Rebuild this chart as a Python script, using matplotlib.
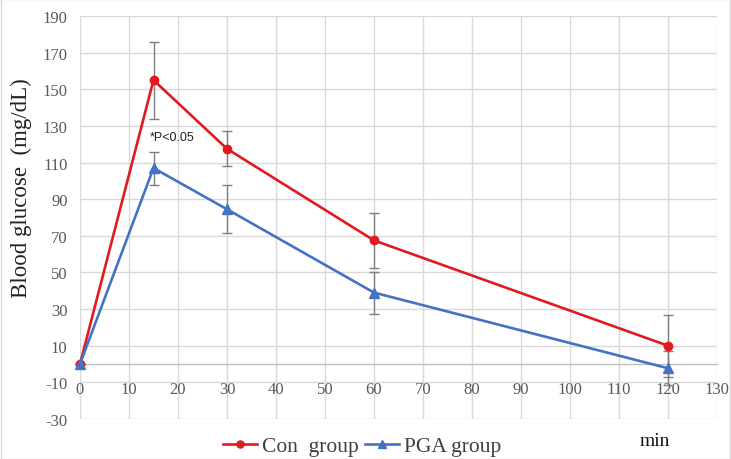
import matplotlib.pyplot as plt
import numpy as np

plt.rcParams['font.family'] = ['Liberation Serif', 'DejaVu Serif']
plt.rcParams['axes.unicode_minus'] = False

time_min = [0, 15, 30, 60, 120]
con_mean = [0, 155, 117.5, 67.5, 10]
con_err = [0, 21, 9.5, 15, 17]
pga_mean = [0, 107, 84.5, 39, -2.3]
pga_err = [0, 9, 13, 11.5, 9.4]

x_ticks = np.arange(0, 131, 10)
y_ticks = np.arange(-30, 191, 20)

red = "#E2191E"
blue = "#4472C4"
grid_c = "#D9D9D9"
err_c = "#7F7F7F"

fig = plt.figure(figsize=(7.31, 4.6), dpi=100)
ax = fig.add_axes([80 / 731, 1 - 420 / 460, 637 / 731, 403 / 460])

ax.errorbar(time_min, con_mean, yerr=con_err, fmt="none", ecolor=err_c,
            elinewidth=1, capsize=3.5, capthick=1, zorder=3, clip_on=False)
ax.errorbar(time_min, pga_mean, yerr=pga_err, fmt="none", ecolor=err_c,
            elinewidth=1, capsize=3.5, capthick=1, zorder=3, clip_on=False)
ax.plot(time_min, con_mean, color=red, lw=1.9, marker="o", ms=6,
        label="Con  group", zorder=4, clip_on=False)
ax.plot(time_min, pga_mean, color=blue, lw=1.9, marker="^", ms=6.5,
        label="PGA group", zorder=5, clip_on=False)

ax.set_xlim(0, 130)
ax.set_ylim(-30, 190)
ax.set_xticks(x_ticks)
ax.set_yticks(y_ticks)
ax.grid(True, color=grid_c, lw=1)
ax.set_axisbelow(True)

for side in ["top", "right", "left"]:
    ax.spines[side].set_visible(False)
ax.spines["bottom"].set_position(("data", 0))
ax.spines["bottom"].set_color("#BFBFBF")
ax.spines["bottom"].set_linewidth(1)
ax.tick_params(axis="both", length=0, labelsize=12, labelcolor="#595959")
ax.tick_params(axis="x", pad=12)
ax.tick_params(axis="y", pad=9)

ax.text(14.2, 124, "*P<0.05", family="Liberation Sans", fontsize=9,
        color="#222222", va="center", ha="left")

ax.set_ylabel("Blood glucose  (mg/dL)", fontsize=16.5, color="#222222",
              va="center")
ax.yaxis.set_label_coords(-0.092, 0.575)

fig.legend(loc="center", bbox_to_anchor=(0.495, 0.028), ncol=2, frameon=False,
           fontsize=15.5, handlelength=1.6, handletextpad=0.2, columnspacing=0.3,
           markerscale=0.85, labelcolor="#404040")
fig.text(0.896, 0.041, "min", fontsize=14, ha="center", va="center",
         color="#111111")

fig.patches.append(plt.Rectangle((0.001, 0.001), 0.998, 0.998, transform=fig.transFigure,
                                 fill=False, edgecolor="#D9D9D9", lw=1))

fig.savefig("out.png", dpi=100)
